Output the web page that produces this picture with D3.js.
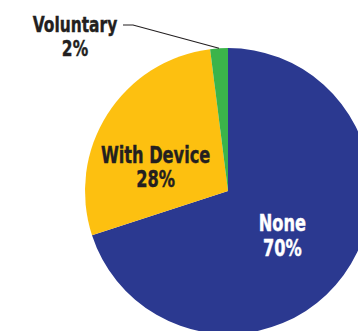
<!DOCTYPE html>
<html>
<head>
<meta charset="utf-8">
<script src="https://cdn.jsdelivr.net/npm/d3@7"></script>
<style>
  html, body { margin: 0; padding: 0; background: #fff; }
  svg text { font-family: "DejaVu Sans Condensed", "DejaVu Sans", sans-serif; font-weight: bold; }
</style>
</head>
<body>
<div id="chart"></div>
<script>
// chart data
const categories = ["None", "With Device", "Voluntary"];
const values = [70, 28, 2];
const colors = ["#2b3990", "#fdc010", "#3bb44a"];

const width = 358, height = 331;
const cx = 228, cy = 191, radius = 143;
const squeeze = 0.8; // condensed look

const svg = d3.select("#chart")
  .append("svg")
  .attr("width", width)
  .attr("height", height);

const pie = d3.pie().sort(null).value(d => d.value);
const arc = d3.arc().innerRadius(0).outerRadius(radius);

const data = categories.map((c, i) => ({ name: c, value: values[i], color: colors[i] }));
const arcs = pie(data);

const g = svg.append("g").attr("transform", `translate(${cx},${cy})`);

g.selectAll("path")
  .data(arcs)
  .enter()
  .append("path")
  .attr("d", arc)
  .attr("fill", d => d.data.color);

function label(parent, x, y, name, pct, color, gap, size) {
  [name, pct + "%"].forEach((s, i) => {
    parent.append("text")
      .attr("transform", `translate(${x},${y + i * gap}) scale(${squeeze},1)`)
      .attr("text-anchor", "middle")
      .attr("fill", color)
      .attr("stroke", color)
      .attr("stroke-width", 0.4)
      .style("font-size", size + "px")
      .text(s);
  });
}

// labels inside the two big slices
const labelPos = {
  "None": { r: 0.47, color: "#fff", dy: 0, gap: 25 },
  "With Device": { r: 0.6, color: "#231f20", dy: 18, gap: 24 }
};

arcs.filter(d => labelPos[d.data.name]).forEach(d => {
  const lp = labelPos[d.data.name];
  const [x, y] = d3.arc().innerRadius(radius * lp.r).outerRadius(radius * lp.r).centroid(d);
  label(g, x, y + lp.dy, d.data.name, d.data.value, lp.color, lp.gap, 22.5);
});

// callout for the small slice
const small = arcs[2];
const mid = (small.startAngle + small.endAngle) / 2;
const edge = [Math.sin(mid) * radius, -Math.cos(mid) * radius];
const elbow = [123 - cx, 25 - cy];

g.append("polyline")
  .attr("points", [[elbow[0], elbow[1]], [elbow[0] + 10, elbow[1]], edge].map(p => p.join(",")).join(" "))
  .attr("fill", "none")
  .attr("stroke", "#231f20")
  .attr("stroke-width", 1.2);

label(svg, 75, 31.5, small.data.name, small.data.value, "#231f20", 24.5, 21.5);
</script>
</body>
</html>
